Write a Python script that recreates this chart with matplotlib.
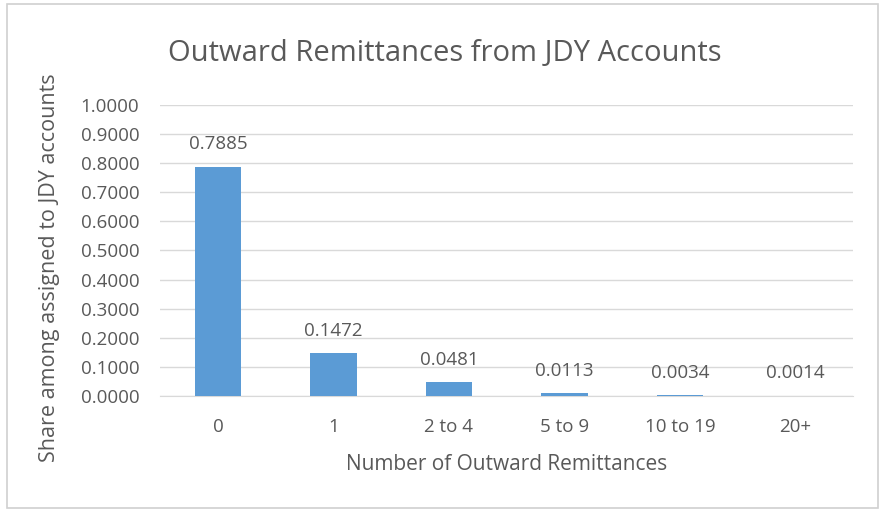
import matplotlib.pyplot as plt
from matplotlib.patches import Rectangle

# data
categories = ["0", "1", "2 to 4", "5 to 9", "10 to 19", "20+"]
shares = [0.7885, 0.1472, 0.0481, 0.0113, 0.0034, 0.0014]
yticks = [0.0, 0.1, 0.2, 0.3, 0.4, 0.5, 0.6, 0.7, 0.8, 0.9, 1.0]

txt = "#595959"
plt.rcParams['font.family'] = ['Open Sans', 'DejaVu Sans']

fig = plt.figure(figsize=(8.85, 5.12), dpi=100)
fig.patches.append(Rectangle((0.008, 0.008), 0.984, 0.984, transform=fig.transFigure,
                             fill=False, edgecolor="#d0d0d0", linewidth=1.2))
ax = fig.add_axes([0.181, 0.2266, 0.783, 0.5684])

x = range(len(categories))
bars = ax.bar(x, shares, width=0.4, color="#5b9bd5", zorder=3)
for b, v in zip(bars, shares):
    ax.text(b.get_x() + b.get_width() / 2, v + 0.045, "%.4f" % v,
            ha="center", va="bottom", fontsize=13.5, color=txt)

ax.set_xlim(-0.5, len(categories) - 0.5)
ax.set_ylim(0, 1.0)
ax.set_yticks(yticks)
ax.set_yticklabels(["%.4f" % t for t in yticks])
ax.set_xticks(list(x))
ax.set_xticklabels(categories)
ax.tick_params(axis="both", length=0, labelsize=13.5, labelcolor=txt)
ax.tick_params(axis="x", pad=16)
ax.tick_params(axis="y", pad=15)
ax.grid(axis="y", color="#d9d9d9", linewidth=1, zorder=0)
for s in ["top", "right", "left"]:
    ax.spines[s].set_visible(False)
ax.spines["bottom"].set_color("#d9d9d9")

ax.set_xlabel("Number of Outward Remittances", fontsize=15, color=txt, labelpad=13)
ax.set_ylabel("Share among assigned to JDY accounts", fontsize=15.5, color=txt)
ax.yaxis.set_label_coords(-0.145, 0.44)
fig.text(0.503, 0.895, "Outward Remittances from JDY Accounts", ha="center", va="center",
         fontsize=21, color=txt)

fig.savefig("out.png", dpi=100)
